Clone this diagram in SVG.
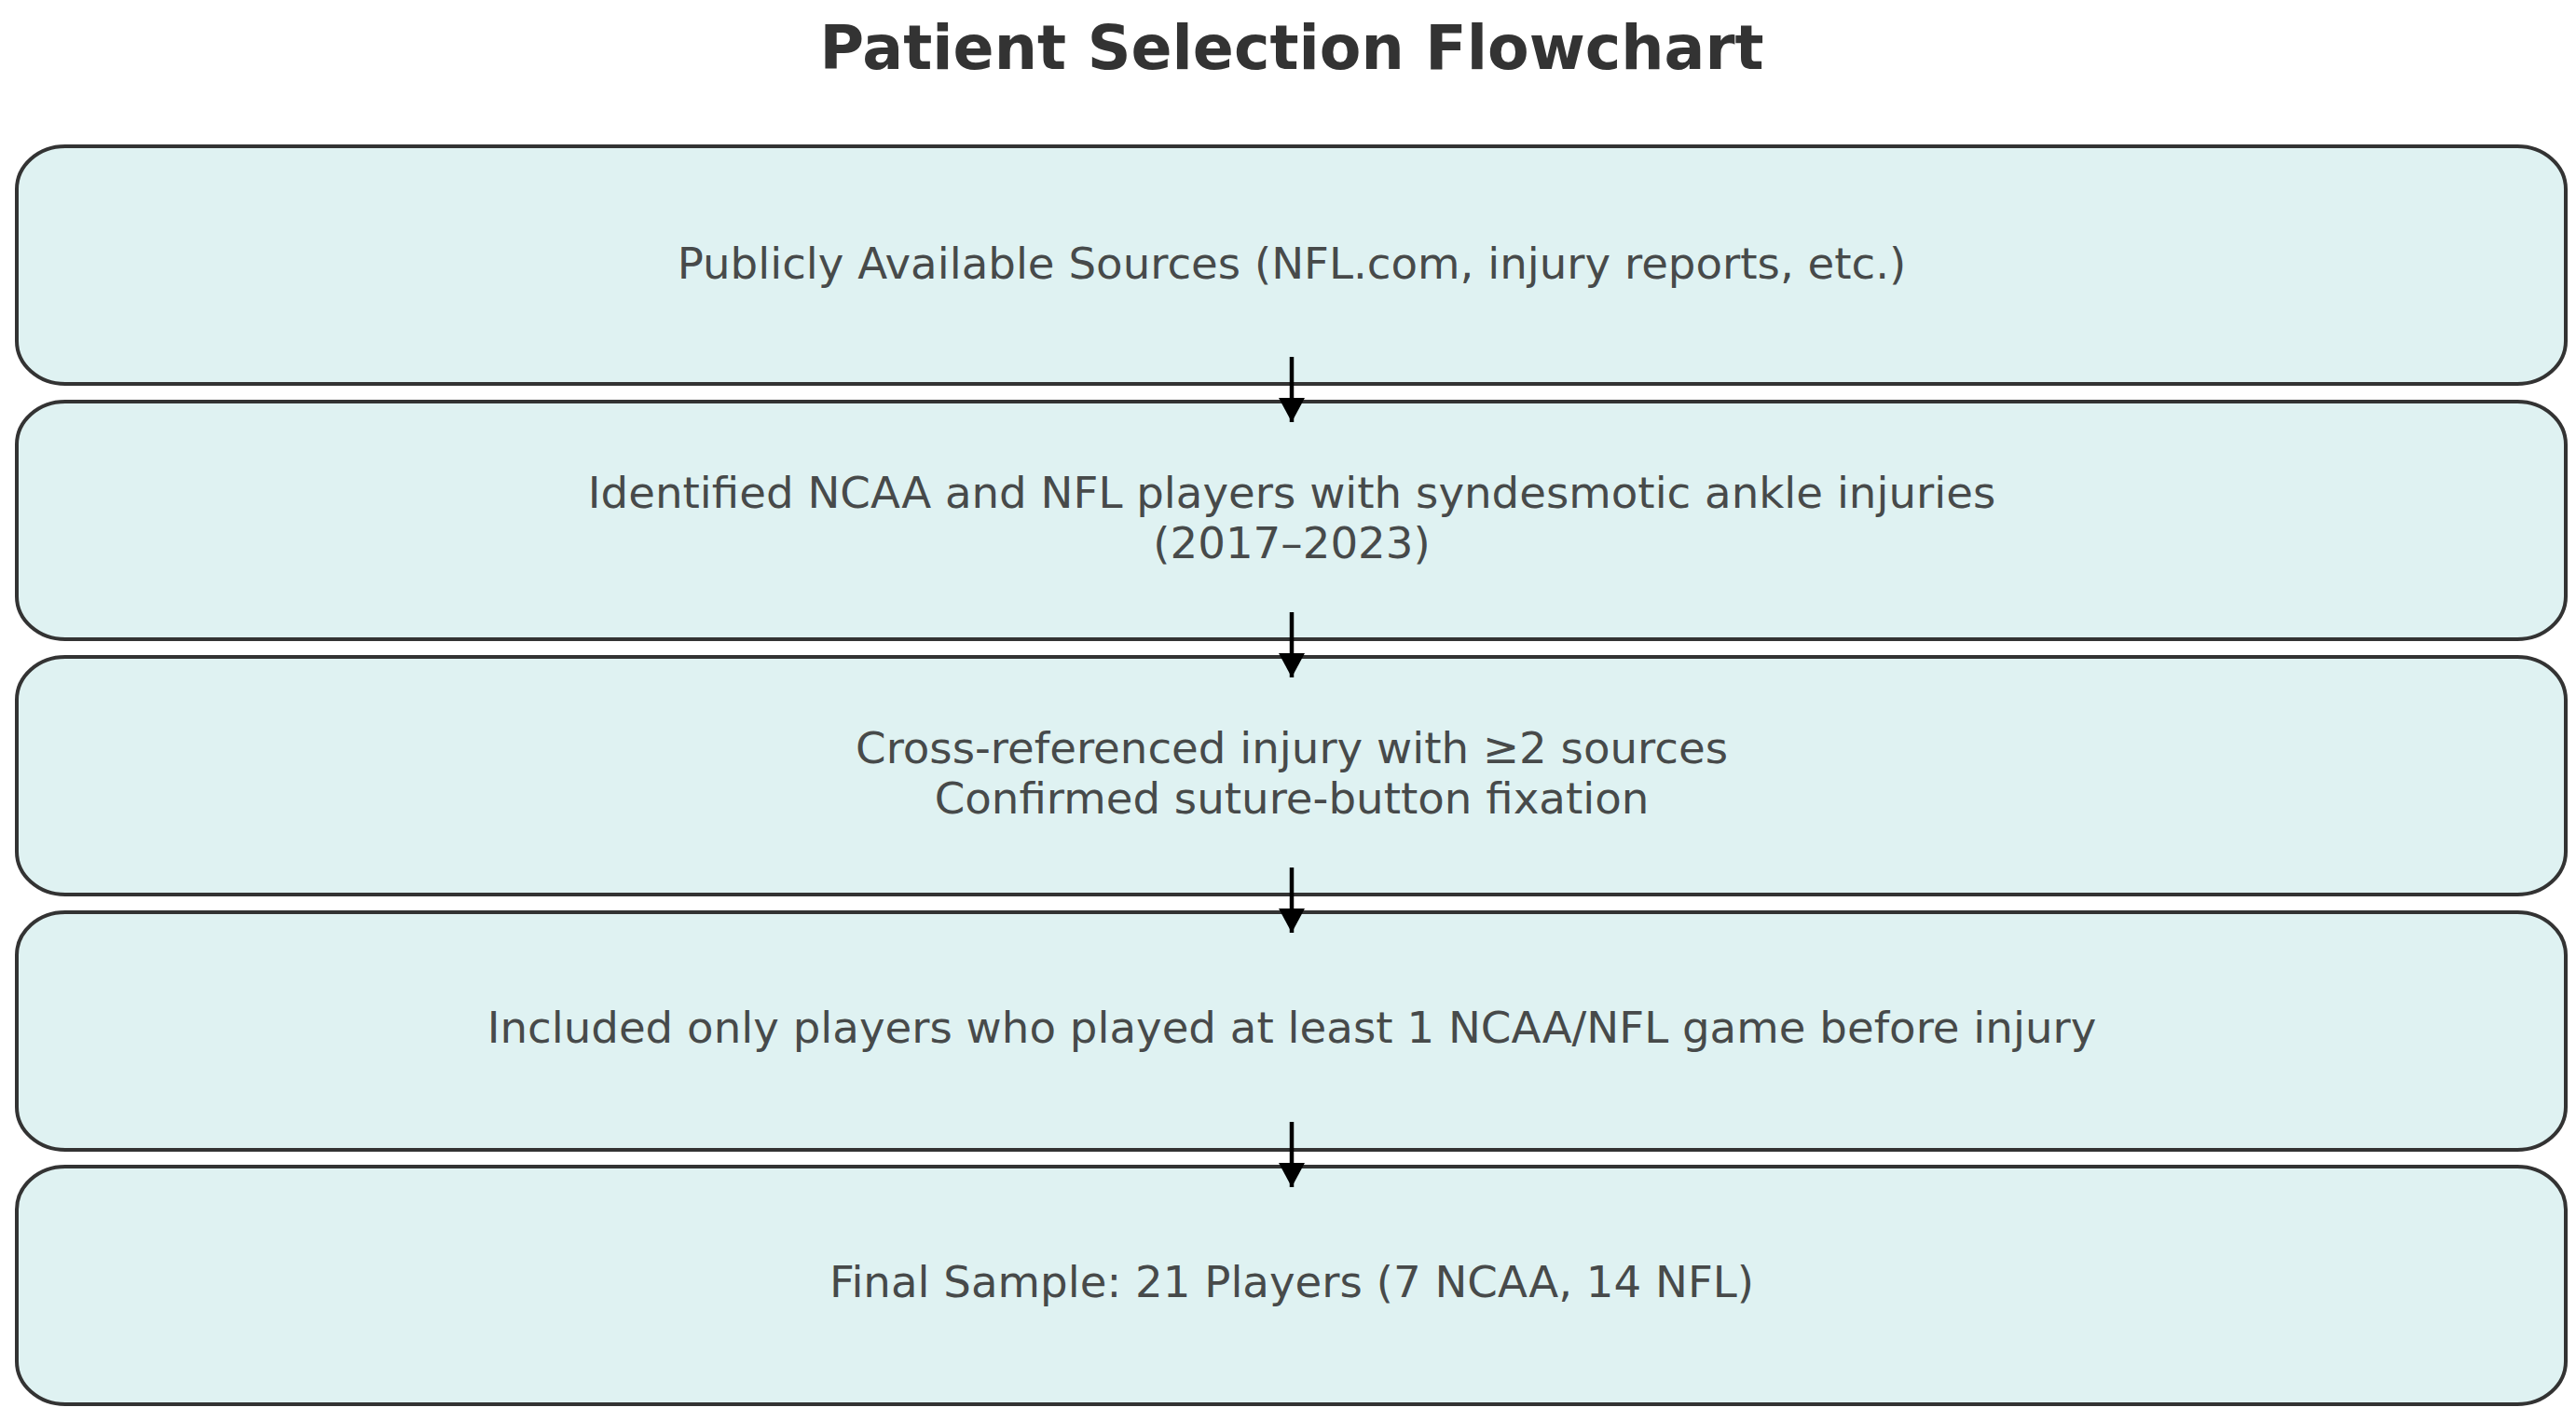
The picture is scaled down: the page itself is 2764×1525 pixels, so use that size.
<svg xmlns="http://www.w3.org/2000/svg" width="2764" height="1525" viewBox="0 0 2764 1525">
<defs>
<style>
.box{fill:#dff2f2;stroke:#333;stroke-width:4}
.t{font-family:"DejaVu Sans",sans-serif;font-size:46.7px;fill:#474a4a;text-anchor:middle}
.title{font-family:"DejaVu Sans",sans-serif;font-size:65px;font-weight:bold;fill:#333;text-anchor:middle}
.arr{stroke:#000;stroke-width:4.5;fill:none}
</style>
<marker id="ah" markerUnits="userSpaceOnUse" markerWidth="30" markerHeight="28" refX="26" refY="14" orient="auto">
<path d="M0,0 L26,14 L0,28 Z" fill="#000"/>
</marker>
</defs>
<rect width="2764" height="1525" fill="#fff"/>
<text class="title" x="1386" y="74">Patient Selection Flowchart</text>
<g id="n1"><rect class="box" x="18" y="157" width="2735" height="255" rx="52" ry="46"/><text class="t" x="1386" y="299">Publicly Available Sources (NFL.com, injury reports, etc.)</text></g>
<g id="n2"><rect class="box" x="18" y="431" width="2735" height="255" rx="52" ry="46"/><text class="t" x="1386" y="545">Identified NCAA and NFL players with syndesmotic ankle injuries</text><text class="t" x="1386" y="599">(2017–2023)</text></g>
<g id="n3"><rect class="box" x="18" y="705" width="2735" height="255" rx="52" ry="46"/><text class="t" x="1386" y="819">Cross-referenced injury with ≥2 sources</text><text class="t" x="1386" y="873">Confirmed suture-button fixation</text></g>
<g id="n4"><rect class="box" x="18" y="979" width="2735" height="255" rx="52" ry="46"/><text class="t" x="1386" y="1119">Included only players who played at least 1 NCAA/NFL game before injury</text></g>
<g id="n5"><rect class="box" x="18" y="1252" width="2735" height="255" rx="52" ry="46"/><text class="t" x="1386" y="1392">Final Sample: 21 Players (7 NCAA, 14 NFL)</text></g>
<g id="connectors">
<line class="arr" x1="1386" y1="383" x2="1386" y2="453" marker-end="url(#ah)"/>
<line class="arr" x1="1386" y1="657" x2="1386" y2="727" marker-end="url(#ah)"/>
<line class="arr" x1="1386" y1="931" x2="1386" y2="1001" marker-end="url(#ah)"/>
<line class="arr" x1="1386" y1="1204" x2="1386" y2="1274" marker-end="url(#ah)"/>
</g>
</svg>
